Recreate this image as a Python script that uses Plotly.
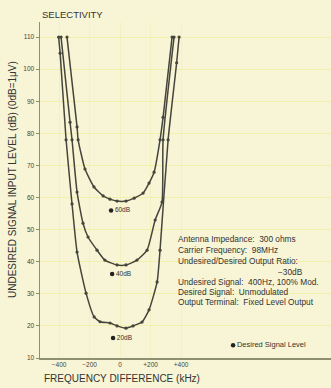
import plotly.graph_objects as go

# ---- data ----
freq_20 = [-403, -393, -354, -315, -282, -223, -170, -131, -66, -20, 39, 85, 144, 190, 243, 262, 315, 371, 387]
level_20 = [110, 105, 78, 58, 43, 30.2, 22.8, 21.3, 20.9, 20.0, 19.3, 20.0, 21.2, 25.0, 33.7, 43.6, 78, 102, 110]

freq_40 = [-387, -328, -315, -282, -243, -210, -151, -100, -20, 39, 111, 177, 230, 275, 282, 354]
level_40 = [110, 83.5, 78, 61.7, 52, 47.7, 43.6, 40.5, 39.0, 39.0, 40.5, 43.6, 53, 58.6, 78, 110]

freq_60 = [-348, -282, -275, -230, -171, -111, -66, -20, 39, 92, 151, 190, 223, 262, 282, 341]
level_60 = [110, 82, 78, 68.9, 63.3, 60.5, 59.5, 58.9, 58.9, 59.8, 61.4, 64.5, 67.9, 78, 85, 110]

desired_labels = ["60dB", "40dB", "20dB"]
desired_x = [-59, -52, -46]
desired_y = [56, 36.2, 16.2]

legend_x = [741]
legend_y = [14]

x_tickvals = [-400, -200, 0, 200, 400]
x_ticktext = ["\u2212400", "\u2212200", "0", "+200", "+400"]
y_tickvals = [10, 20, 30, 40, 50, 60, 70, 80, 90, 100, 110]

notes = [
    "Antenna Impedance:  300 ohms",
    "Carrier Frequency:  98MHz",
    "Undesired/Desired Output Ratio:",
    "\u221230dB",
    "Undesired Signal:  400Hz, 100% Mod.",
    "Desired Signal:  Unmodulated",
    "Output Terminal:  Fixed Level Output",
]

# ---- figure ----
INK = "#45453b"
BG = "#f7f5d5"
FONT = "Liberation Sans"

fig = go.Figure()
for fx, ly in [(freq_20, level_20), (freq_40, level_40), (freq_60, level_60)]:
    fig.add_trace(go.Scatter(
        x=fx, y=ly, mode="lines+markers",
        line=dict(color=INK, width=1.5, shape="spline", smoothing=0.5),
        marker=dict(color=INK, size=3.2),
        hoverinfo="skip", showlegend=False, cliponaxis=False,
    ))

fig.add_trace(go.Scatter(
    x=desired_x, y=desired_y, mode="markers+text",
    text=desired_labels, textposition="middle right",
    textfont=dict(family=FONT, size=6.5, color="#333"),
    marker=dict(color="#222", size=4.5),
    showlegend=False, hoverinfo="skip",
))
fig.add_trace(go.Scatter(
    x=legend_x, y=legend_y, mode="markers+text",
    text=["Desired Signal Level"], textposition="middle right",
    textfont=dict(family=FONT, size=7.5, color="#333"),
    marker=dict(color="#222", size=4.5),
    showlegend=False, hoverinfo="skip",
))

fig.update_layout(
    width=331, height=388,
    margin=dict(l=40, r=0, t=22, b=30),
    paper_bgcolor=BG, plot_bgcolor=BG,
    font=dict(family=FONT, color="#333"),
    hovermode=False,
    xaxis=dict(
        range=[-525, 1383], tickvals=x_tickvals, ticktext=x_ticktext,
        showline=True, linecolor="#8e8e70", linewidth=1.5,
        ticks="", tickfont=dict(size=6.5, color="#444"),
        showgrid=True, gridcolor="rgba(236,236,150,0.35)", gridwidth=1,
        zeroline=False, automargin=False,
    ),
    yaxis=dict(
        range=[10, 114.7], tickvals=y_tickvals,
        showline=True, linecolor="#8e8e70", linewidth=1.5,
        ticks="outside", ticklen=3, tickcolor="#8e8e70",
        tickfont=dict(size=6.5, color="#444"),
        showgrid=True, gridcolor="rgba(236,236,120,0.45)", gridwidth=1,
        zeroline=False, automargin=False,
    ),
)

fig.add_annotation(text="SELECTIVITY", xref="paper", yref="paper",
                   x=0, y=1 + 8 / 336, xanchor="left", yanchor="middle", showarrow=False,
                   font=dict(family=FONT, size=9.5, color="#333"))
fig.add_annotation(text="UNDESIRED SIGNAL INPUT LEVEL (dB) (0dB=1\u03bcV)", xref="paper", yref="paper",
                   x=-28 / 291, y=(358 - 180) / 336, xanchor="center", yanchor="middle",
                   textangle=-90, showarrow=False,
                   font=dict(family=FONT, size=10, color="#333"))
fig.add_annotation(text="FREQUENCY DIFFERENCE (kHz)", xref="paper", yref="paper",
                   x=2 / 291, y=-(378 - 358) / 336, xanchor="left", yanchor="middle", showarrow=False,
                   font=dict(family=FONT, size=10, color="#333"))

ys = [239, 250, 261, 272, 282, 292, 302]
for i, (t, yp) in enumerate(zip(notes, ys)):
    if i == 3:
        fig.add_annotation(text=t, xref="paper", yref="paper", x=(305 - 40) / 291, y=(358 - yp) / 336,
                           xanchor="right", yanchor="middle", showarrow=False,
                           font=dict(family=FONT, size=8.3, color="#333"))
    else:
        fig.add_annotation(text=t, xref="paper", yref="paper", x=(176 - 40) / 291, y=(358 - yp) / 336,
                           xanchor="left", yanchor="middle", showarrow=False,
                           font=dict(family=FONT, size=8.3, color="#333"))

fig.write_html(
    "out.html",
    config={"displayModeBar": False, "staticPlot": True},
    post_script="document.body.style.margin='0';document.body.style.overflow='hidden';",
)
